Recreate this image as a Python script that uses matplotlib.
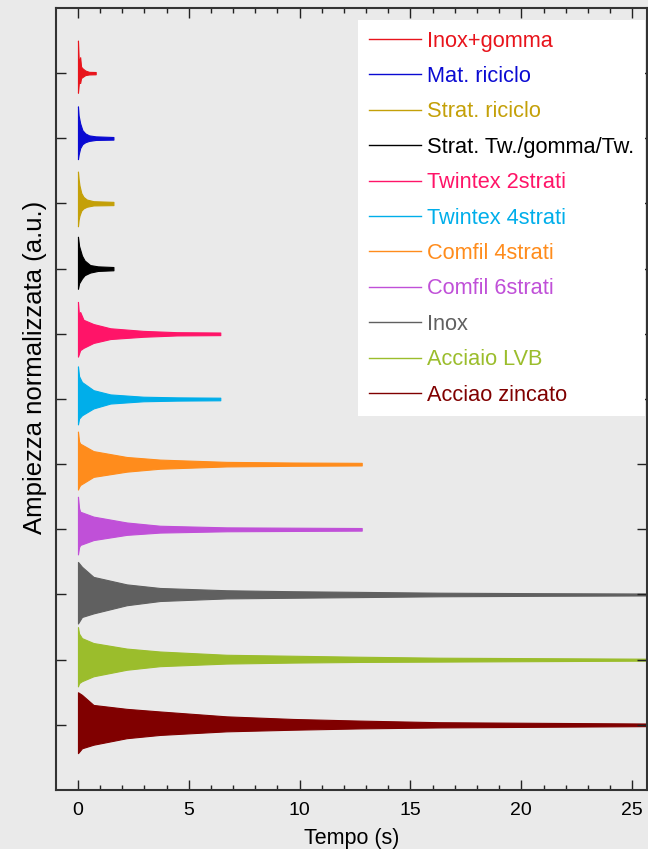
import matplotlib
matplotlib.use("Agg")
import matplotlib.pyplot as plt
from matplotlib.lines import Line2D
import numpy as np

plt.rcParams['font.family'] = ['Liberation Sans', 'DejaVu Sans']

# series names / colours (top to bottom)
names = ["Inox+gomma", "Mat. riciclo", "Strat. riciclo", "Strat. Tw./gomma/Tw.",
         "Twintex 2strati", "Twintex 4strati", "Comfil 4strati", "Comfil 6strati",
         "Inox", "Acciaio LVB", "Acciao zincato"]
colors = ["#e8141c", "#0a0ad2", "#c4a008", "#000000",
          "#ff1468", "#00aeea", "#ff8c1c", "#c050d8",
          "#606060", "#9bbd2c", "#800000"]

# envelope of each normalized trace: time (s), upper amplitude, lower amplitude
env_t = [
    [0, 0.04, 0.1, 0.14, 0.2, 0.33, 0.5, 0.8],
    [0, 0.03, 0.1, 0.2, 0.33, 0.5, 0.8, 1.6],
    [0, 0.03, 0.07, 0.15, 0.25, 0.4, 0.7, 1.6],
    [0, 0.05, 0.18, 0.3, 0.55, 0.9, 1.6],
    [0, 0.05, 0.1, 0.25, 0.7, 1.46, 2.95, 4.46, 6.42],
    [0, 0.05, 0.18, 0.7, 1.46, 2.95, 4.46, 6.42],
    [0, 0.05, 0.1, 0.7, 2.2, 3.7, 6.7, 9.7, 12.8],
    [0, 0.05, 0.1, 0.7, 2.2, 3.7, 6.7, 9.7, 12.8],
    [0, 0.18, 0.7, 2.2, 3.7, 6.7, 9.7, 12.7, 16.3, 21, 25.7],
    [0, 0.05, 0.18, 0.7, 2.2, 3.7, 6.7, 9.7, 12.7, 16.3, 21, 25.7],
    [0, 0.18, 0.7, 2.2, 3.7, 6.7, 9.7, 12.7, 16.3, 21, 25.7],
]
env_up = [
    [1.0, 0.3, 0.49, 0.2, 0.15, 0.08, 0.04, 0.035],
    [0.98, 0.7, 0.46, 0.25, 0.15, 0.09, 0.06, 0.04],
    [0.98, 0.75, 0.55, 0.32, 0.2, 0.12, 0.07, 0.05],
    [0.98, 0.7, 0.4, 0.25, 0.11, 0.07, 0.05],
    [0.98, 0.55, 0.67, 0.43, 0.3, 0.17, 0.09, 0.05, 0.04],
    [1.0, 0.7, 0.52, 0.27, 0.14, 0.07, 0.05, 0.04],
    [1.0, 0.7, 0.63, 0.4, 0.22, 0.14, 0.07, 0.05, 0.04],
    [1.0, 0.65, 0.54, 0.39, 0.21, 0.11, 0.06, 0.05, 0.04],
    [1.0, 0.85, 0.54, 0.31, 0.2, 0.13, 0.1, 0.08, 0.055, 0.04, 0.03],
    [1.0, 0.8, 0.66, 0.51, 0.34, 0.25, 0.15, 0.12, 0.09, 0.06, 0.045, 0.03],
    [1.0, 0.92, 0.61, 0.49, 0.41, 0.26, 0.18, 0.13, 0.08, 0.06, 0.04],
]
env_dn = [
    [0.6, 0.3, 0.3, 0.15, 0.12, 0.06, 0.04, 0.035],
    [0.64, 0.5, 0.3, 0.18, 0.12, 0.08, 0.05, 0.04],
    [0.7, 0.5, 0.37, 0.22, 0.15, 0.1, 0.06, 0.05],
    [0.62, 0.45, 0.3, 0.2, 0.12, 0.07, 0.05],
    [0.7, 0.6, 0.5, 0.43, 0.28, 0.16, 0.09, 0.05, 0.04],
    [0.78, 0.6, 0.5, 0.29, 0.14, 0.07, 0.05, 0.04],
    [0.78, 0.7, 0.64, 0.39, 0.23, 0.14, 0.07, 0.05, 0.04],
    [0.77, 0.55, 0.48, 0.33, 0.17, 0.1, 0.06, 0.05, 0.04],
    [0.89, 0.69, 0.58, 0.33, 0.2, 0.12, 0.1, 0.08, 0.055, 0.04, 0.03],
    [0.82, 0.72, 0.66, 0.51, 0.31, 0.2, 0.12, 0.09, 0.07, 0.06, 0.045, 0.03],
    [0.87, 0.72, 0.61, 0.41, 0.31, 0.2, 0.15, 0.11, 0.08, 0.06, 0.04],
]
offsets = [20, 18, 16, 14, 12, 10, 8, 6, 4, 2, 0]
xticks = [0, 5, 10, 15, 20, 25]

bg = "#eaeaea"
fig = plt.figure(figsize=(6.48, 8.49), dpi=100, facecolor=bg)
ax = fig.add_axes([0.0861, 0.0695, 0.9985 - 0.0861, 0.9906 - 0.0695])
ax.set_facecolor(bg)

for t, up, dn, off, c in zip(env_t, env_up, env_dn, offsets, colors):
    t = np.array(t)
    ax.fill_between(t, off + np.array(up), off - np.array(dn),
                    facecolor=c, edgecolor=c, linewidth=0.8)

ax.set_xlim(-1, 25.67)
ax.set_ylim(-2, 22)
ax.set_xticks(xticks)
ax.set_xticks(np.arange(0, 26, 1), minor=True)
ax.set_yticks(offsets)
ax.set_yticklabels([])
ax.tick_params(which='both', direction='in', top=True, right=True,
               color='#222222', width=1)
ax.tick_params(which='major', length=7, labelsize=14, pad=9)
ax.tick_params(which='minor', length=3.5)
for s in ax.spines.values():
    s.set_linewidth(1.5)
    s.set_color('#333333')

ax.set_xlabel("Tempo (s)", fontsize=15.5, labelpad=6)
ax.set_ylabel("Ampiezza normalizzata (a.u.)", fontsize=18.5)
ax.yaxis.set_label_coords(-0.015, 0.54)

handles = [Line2D([], [], color=c, lw=1.0) for c in colors]
leg = ax.legend(handles, names, loc='upper right', bbox_to_anchor=(0.997, 0.985),
                borderaxespad=0, fontsize=15.7, frameon=True, fancybox=False,
                framealpha=1, edgecolor='none', facecolor='white',
                handlelength=2.4, handletextpad=0.28, labelspacing=0.66,
                borderpad=0.5)
for txt, c in zip(leg.get_texts(), colors):
    txt.set_color(c)

fig.savefig("out.png", dpi=100, facecolor=bg)
